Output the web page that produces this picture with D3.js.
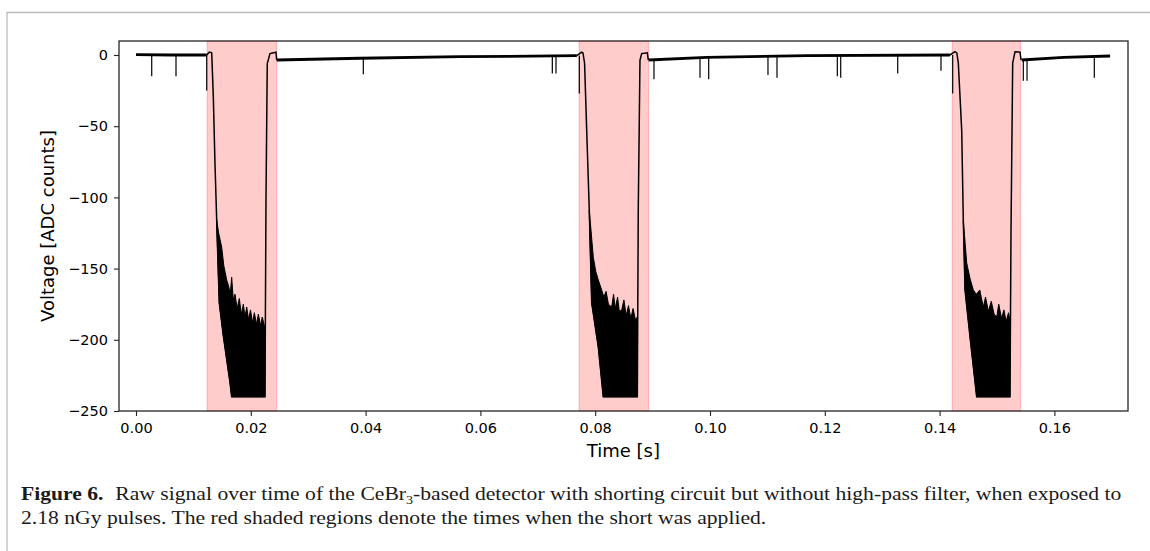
<!DOCTYPE html>
<html lang="en">
<head>
<meta charset="utf-8">
<script src="https://d3js.org/d3.v7.min.js"></script>
<style>
  body { margin: 0; background: #fff; }
  svg text { font-family: "DejaVu Sans", sans-serif; fill: #000; }
  .caption text { font-family: "Liberation Serif", serif; fill: #1a1a1a; }
</style>
</head>
<body>
<svg id="fig" width="1150" height="551"></svg>
<script>

// tick labels
const xTicks = [0, 0.02, 0.04, 0.06, 0.08, 0.10, 0.12, 0.14, 0.16];
const yTicks = [0, -50, -100, -150, -200, -250];

// times when the short was applied [start, end] (s)
const shorts = [[0.0124, 0.0245], [0.0772, 0.0893], [0.1422, 0.1541]];

// baseline between pulses [t, ADC]
const base0 = [[0, 0.3], [0.006, 0], [0.0123, 0]];
const base1 = [[0.0245, -3.5], [0.0390, -2.3], [0.0565, -1.2], [0.0768, -0.5]];
const base2 = [[0.0893, -3.5], [0.0994, -1.6], [0.1169, -0.5], [0.1418, 0]];
const base3 = [[0.1543, -3.5], [0.1616, -1.6], [0.1697, -0.7]];

// fall / saturation / recovery during each short
const pulse1 = [[0.0123, 0], [0.01277, 2], [0.01319, 1.5], [0.01347, -29], [0.01376, -76], [0.01406, -116],
  [0.01451, -174], [0.01521, -197], [0.01638, -230], [0.01667, -240], [0.02247, -240],
  [0.02265, -100], [0.02287, -6], [0.02334, 1], [0.02439, 2], [0.02451, -3.5]];
const pulse2 = [[0.0768, -0.5], [0.07765, 2], [0.07787, 1.5], [0.07815, -5.8], [0.07852, -53], [0.07897, -109],
  [0.07939, -174], [0.08054, -205], [0.08141, -240], [0.08734, -240],
  [0.08750, -110], [0.08780, -3.5], [0.08810, 1], [0.08908, 1.5], [0.08925, -3.5]];
const pulse3 = [[0.1418, 0], [0.14268, 2.3], [0.14300, 1.5], [0.14326, -5.7], [0.14385, -53], [0.14413, -116],
  [0.14443, -165], [0.14530, -198], [0.14646, -240], [0.15226, -240],
  [0.15244, -123], [0.15273, -5.7], [0.15314, 2.3], [0.15401, 2], [0.15418, -3.5]];

// upper edge of the noisy band
const bandTop1 = [[0.01406, -116], [0.01440, -125], [0.01493, -135], [0.01530, -148], [0.01580, -158],
  [0.01612, -162], [0.01642, -168], [0.01667, -156], [0.01695, -172], [0.01725, -168], [0.01762, -178],
  [0.01800, -171], [0.01835, -182], [0.01870, -175], [0.01900, -184], [0.01929, -177], [0.01962, -186],
  [0.01995, -179], [0.02030, -188], [0.02062, -181], [0.02100, -189], [0.02132, -182], [0.02170, -190],
  [0.02200, -184], [0.02247, -192]];
const bandTop2 = [[0.07897, -109], [0.07967, -142], [0.08010, -152], [0.08054, -158], [0.08113, -165],
  [0.08150, -170], [0.08190, -166], [0.08230, -175], [0.08287, -177], [0.08320, -168], [0.08350, -178],
  [0.08390, -170], [0.08420, -180], [0.08462, -179], [0.08500, -172], [0.08540, -183], [0.08580, -176],
  [0.08620, -185], [0.08660, -178], [0.08700, -186], [0.08734, -184]];
const bandTop3 = [[0.14413, -116], [0.14472, -146], [0.14530, -157], [0.14587, -165], [0.14640, -168],
  [0.14700, -165], [0.14761, -177], [0.14800, -170], [0.14850, -180], [0.14900, -173], [0.14950, -182],
  [0.14995, -184], [0.15030, -175], [0.15080, -185], [0.15120, -179], [0.15160, -187], [0.15200, -181],
  [0.15226, -186]];

// lower edge of the noisy band
const bandBottom1 = [[0.01406, -120], [0.01451, -174], [0.01521, -197], [0.01638, -230], [0.01667, -240], [0.02247, -240]];
const bandBottom2 = [[0.07897, -112], [0.07939, -174], [0.08054, -205], [0.08141, -240], [0.08734, -240]];
const bandBottom3 = [[0.14413, -118], [0.14443, -165], [0.14530, -198], [0.14646, -240], [0.15226, -240]];

// single-sample dips [t, from, to]
const spikes = [[0.00274, 0, -15], [0.00697, 0, -15], [0.01232, 0, -25], [0.0396, -2.2, -13.5],
  [0.07253, -0.7, -13], [0.07317, -0.7, -13], [0.07723, -0.5, -27], [0.09024, -3.2, -17],
  [0.09826, -1.8, -16], [0.09977, -1.6, -17], [0.11010, -0.9, -14], [0.11167, -0.8, -16],
  [0.12218, -0.4, -15], [0.12277, -0.4, -16], [0.13270, -0.2, -13], [0.14024, 0, -11],
  [0.14228, 0, -27], [0.15458, -3.4, -18], [0.15523, -3.2, -18], [0.16695, -0.8, -16]];

const margin = {top: 41, right: 22, bottom: 140, left: 119},
    width = 1150 - margin.left - margin.right,
    height = 551 - margin.top - margin.bottom;

const svg = d3.select("#fig");

// page frame (top and left rule)
svg.append("path")
    .attr("d", "M7,551 V12.5 H1150")
    .attr("fill", "none")
    .attr("stroke", "#bdbdbd")
    .attr("stroke-width", 1.3);

const g = svg.append("g")
    .attr("transform", `translate(${margin.left},${margin.top})`);

const x = d3.scaleLinear()
    .domain([-0.00296, 0.17282])
    .range([0, width]);

const y = d3.scaleLinear()
    .domain([-250, 9.83])
    .range([height, 0]);

// shaded regions
g.selectAll(".short")
  .data(shorts)
  .join("rect")
    .attr("class", "short")
    .attr("x", d => x(d[0]))
    .attr("y", 0)
    .attr("width", d => x(d[1]) - x(d[0]))
    .attr("height", height)
    .attr("fill", "rgba(255,0,0,0.2)")
    .attr("stroke", "rgba(255,0,0,0.2)")
    .attr("stroke-width", 1.2);

const line = d3.line()
    .x(d => x(d[0]))
    .y(d => y(d[1]));

// noisy band: top edge forward, bottom edge back
const bands = [[bandTop1, bandBottom1], [bandTop2, bandBottom2], [bandTop3, bandBottom3]];
g.selectAll(".band")
  .data(bands)
  .join("path")
    .attr("class", "band")
    .attr("d", d => line(d[0].concat(d[1].slice().reverse())) + "Z")
    .attr("fill", "#000")
    .attr("stroke", "#000")
    .attr("stroke-width", 1);

g.selectAll(".pulse")
  .data([pulse1, pulse2, pulse3])
  .join("path")
    .attr("class", "pulse")
    .attr("d", line)
    .attr("fill", "none")
    .attr("stroke", "#000")
    .attr("stroke-width", 1.5);

g.selectAll(".base")
  .data([base0, base1, base2, base3])
  .join("path")
    .attr("class", "base")
    .attr("d", line)
    .attr("fill", "none")
    .attr("stroke", "#000")
    .attr("stroke-width", 2.8);

g.selectAll(".spike")
  .data(spikes)
  .join("line")
    .attr("class", "spike")
    .attr("x1", d => x(d[0]))
    .attr("x2", d => x(d[0]))
    .attr("y1", d => y(d[1]))
    .attr("y2", d => y(d[2]))
    .attr("stroke", "#000")
    .attr("stroke-width", 1.2);

// axes
const xAxis = g.append("g")
    .attr("transform", `translate(0,${height})`)
    .call(d3.axisBottom(x).tickValues(xTicks).tickFormat(d3.format(".2f")).tickSize(5).tickPadding(7));
const yAxis = g.append("g")
    .call(d3.axisLeft(y).tickValues(yTicks).tickFormat(d3.format("d")).tickSize(5).tickPadding(6));

[xAxis, yAxis].forEach(a => {
  a.select(".domain").remove();
  a.selectAll(".tick line").attr("stroke", "#222").attr("stroke-width", 1.1);
  a.selectAll(".tick text").style("font-size", "14.5px").attr("fill", "#000");
});

// spines
g.append("rect")
    .attr("width", width)
    .attr("height", height)
    .attr("fill", "none")
    .attr("stroke", "#262626")
    .attr("stroke-width", 1.3);

g.append("text")
    .attr("x", x(0.0849))
    .attr("y", height + 46)
    .attr("text-anchor", "middle")
    .style("font-size", "18px")
    .text("Time [s]");

g.append("text")
    .attr("transform", `translate(${54 - margin.left},${height / 2}) rotate(-90)`)
    .attr("text-anchor", "middle")
    .style("font-size", "18px")
    .text("Voltage [ADC counts]");

// caption
const cap = svg.append("g").attr("class", "caption");
const l1 = cap.append("text").attr("x", 0).attr("y", 500).style("font-size", "18.5px");
l1.append("tspan").attr("font-weight", "bold").text("Figure 6.");
l1.append("tspan").attr("dx", 10).text("Raw signal over time of the CeBr");
l1.append("tspan").attr("dy", 4).style("font-size", "12px").text("3");
l1.append("tspan").attr("dy", -4).text("-based detector with shorting circuit but without high-pass filter, when exposed to");
cap.append("text").attr("x", 0).attr("y", 524).style("font-size", "18.5px")
    .text("2.18 nGy pulses. The red shaded regions denote the times when the short was applied.");

const sx = (1110 - 21) / l1.node().getComputedTextLength();
cap.attr("transform", `translate(21,0) scale(${sx},1)`);

</script>
</body>
</html>
